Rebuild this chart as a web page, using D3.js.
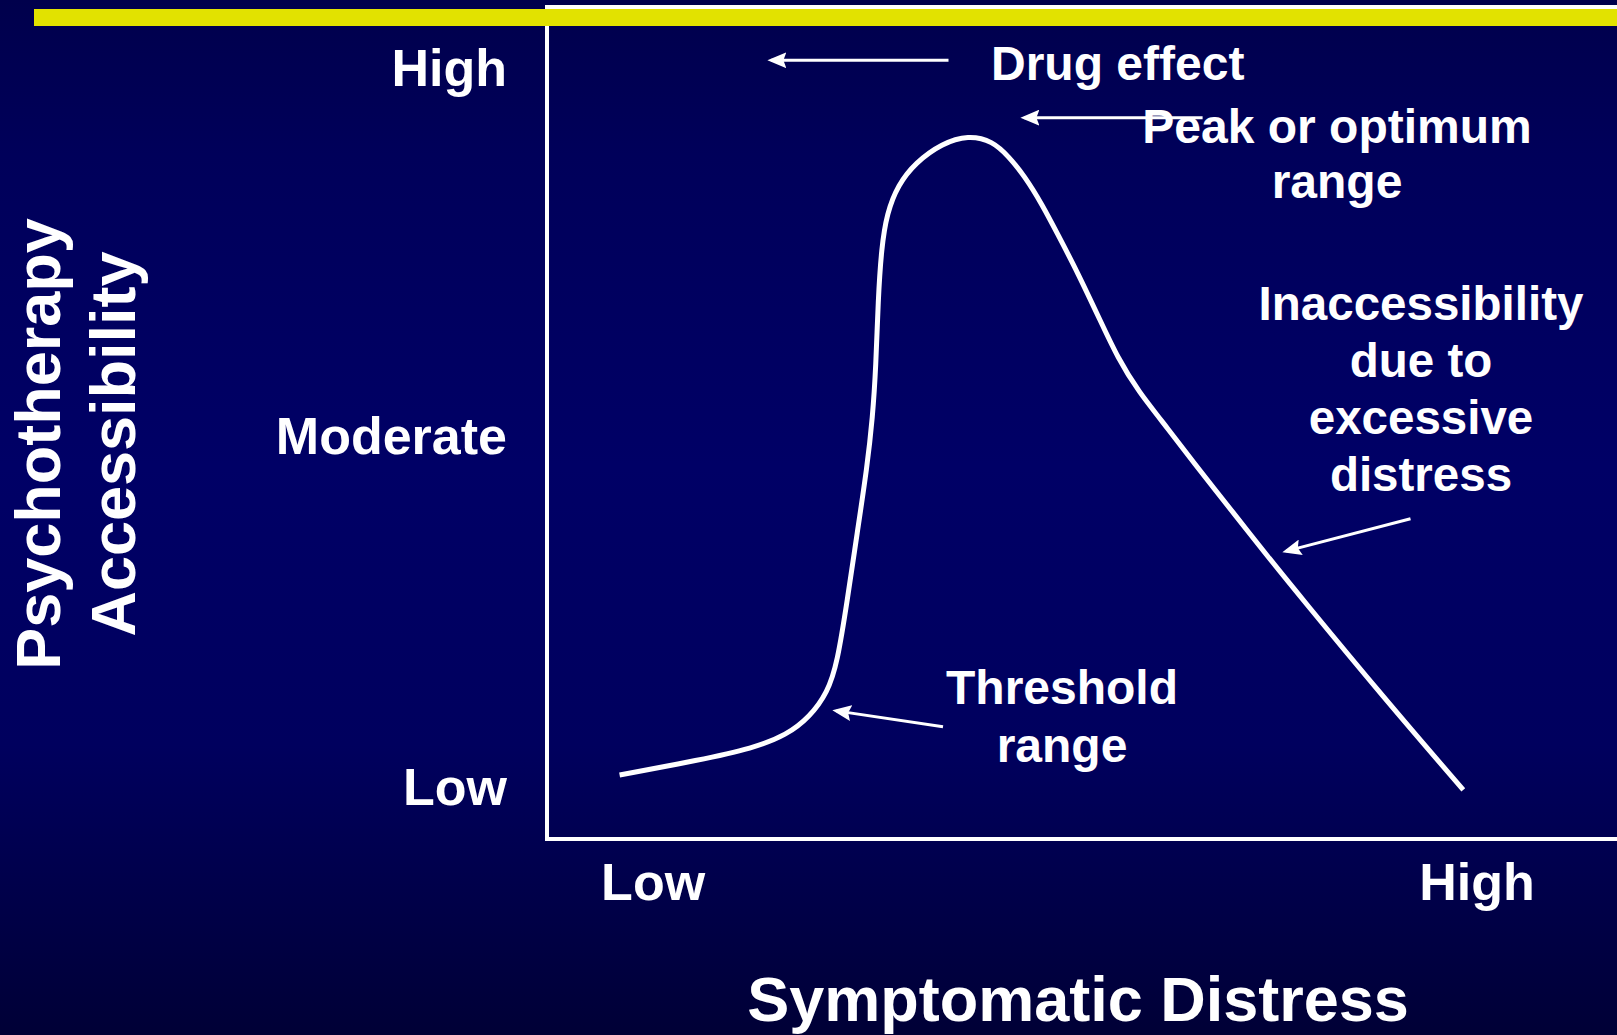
<!DOCTYPE html>
<html>
<head>
<meta charset="utf-8">
<script src="https://cdn.jsdelivr.net/npm/d3@7"></script>
<style>
  html, body { margin: 0; padding: 0; background: #000050; }
  svg { display: block; }
  text { font-family: "Liberation Sans", Arial, sans-serif; font-weight: bold; fill: #fff; }
</style>
</head>
<body>
<svg id="chart" width="1617" height="1035"></svg>
<script>
// curve (distress 0-100, accessibility 0-100)
const distress = [6.6, 13.9, 18.7, 21.8, 23.9, 25.5, 26.4, 27.3, 28.2, 29.1, 29.6, 29.9, 30.1, 30.4, 30.9,
  31.9, 33.5, 35.9, 38.3, 40.5, 42.0, 43.4, 45.0, 46.5, 48.2, 50.3, 51.9, 53.7, 56.4, 59.4, 62.4, 65.5, 68.5, 76.0, 83.3];
const accessibility = [7.7, 9.5, 10.9, 12.5, 14.7, 17.6, 21.2, 28.7, 36.8, 44.7, 50.7, 56.7, 64.8, 71.0, 75.2,
  78.6, 81.3, 83.6, 84.6, 83.9, 82.0, 79.7, 76.3, 72.5, 68.2, 62.3, 57.8, 53.9, 49.4, 44.2, 39.2, 34.0, 29.1, 17.1, 5.9];

const yTickLabels = ["Low", "Moderate", "High"];
const yTickValues = [6.2, 48.3, 92.6];
const xTickLabels = ["Low", "High"];
const xTickValues = [9.6, 84.5];

const xTitle = "Symptomatic Distress";
const yTitle = ["Psychotherapy", "Accessibility"];

const svg = d3.select("#chart");
const W = 1617, H = 1035;

// background gradient
const defs = svg.append("defs");
const grad = defs.append("linearGradient").attr("id", "bg").attr("x1", 0).attr("y1", 0).attr("x2", 0).attr("y2", 1);
[[0, "#00004c"], [0.15, "#00005a"], [0.45, "#000066"], [0.72, "#00005e"], [1, "#000036"]].forEach(s => {
  grad.append("stop").attr("offset", s[0]).attr("stop-color", s[1]);
});
svg.append("rect").attr("width", W).attr("height", H).attr("fill", "url(#bg)");

defs.append("marker")
  .attr("id", "head")
  .attr("viewBox", "0 0 19 16")
  .attr("refX", 15).attr("refY", 8)
  .attr("markerWidth", 19).attr("markerHeight", 16)
  .attr("markerUnits", "userSpaceOnUse")
  .attr("orient", "auto")
  .append("path").attr("d", "M0,0 L19,8 L0,16 L3,8 Z").attr("fill", "#fff");

const x = d3.scaleLinear().domain([0, 100]).range([547, 1647]);
const y = d3.scaleLinear().domain([0, 100]).range([839, 7]);

// plot frame (right side runs off the slide)
svg.append("rect")
  .attr("x", x(0)).attr("y", y(100))
  .attr("width", x(100) - x(0)).attr("height", y(0) - y(100))
  .attr("fill", "none").attr("stroke", "#fff").attr("stroke-width", 4);

// yellow title bar
svg.append("rect").attr("x", 34).attr("y", 9).attr("width", W - 34).attr("height", 17).attr("fill", "#e2e200");

// axes: only the labels are visible
const yAxis = svg.append("g")
  .attr("transform", `translate(${x(0)},0)`)
  .call(d3.axisLeft(y).tickValues(yTickValues).tickSize(0).tickPadding(40)
    .tickFormat((d, i) => yTickLabels[i]));
const xAxis = svg.append("g")
  .attr("transform", `translate(0,${y(0)})`)
  .call(d3.axisBottom(x).tickValues(xTickValues).tickSize(0).tickPadding(24)
    .tickFormat((d, i) => xTickLabels[i]));
[yAxis, xAxis].forEach(g => {
  g.select(".domain").remove();
  g.selectAll("text").attr("fill", "#fff").style("font-size", "52px")
    .style("font-family", '"Liberation Sans", Arial, sans-serif').style("font-weight", "bold");
});

// axis titles
svg.append("text").attr("x", 1078).attr("y", 1021).attr("text-anchor", "middle")
  .style("font-size", "63px").text(xTitle);
yTitle.forEach((t, i) => {
  svg.append("text")
    .attr("transform", `translate(${[60, 135][i]},444) rotate(-90)`)
    .attr("text-anchor", "middle")
    .style("font-size", "63px").text(t);
});

// the curve
const pts = distress.map((d, i) => [d, accessibility[i]]);
const line = d3.line().x(d => x(d[0])).y(d => y(d[1])).curve(d3.curveBasis);
svg.append("path").datum(pts)
  .attr("d", line)
  .attr("fill", "none").attr("stroke", "#fff").attr("stroke-width", 5)
  .attr("stroke-linecap", "butt");

// arrows: [tailX, tailY, tipX, tipY] in data units
const arrows = [
  [36.5, 93.6, 20.4, 93.6],
  [59.6, 86.7, 43.4, 86.7],
  [36.0, 13.5, 26.3, 15.4],
  [78.5, 38.5, 67.2, 34.6]
];
svg.append("g").selectAll("line")
  .data(arrows)
  .join("line")
  .attr("x1", d => x(d[0])).attr("y1", d => y(d[1]))
  .attr("x2", d => x(d[2])).attr("y2", d => y(d[3]))
  .attr("stroke", "#fff").attr("stroke-width", 3)
  .attr("marker-end", "url(#head)");

// annotation texts
const notes = [
  { lines: ["Drug effect"], x: 991, y: 80, anchor: "start", size: 48, lh: 0 },
  { lines: ["Peak or optimum", "range"], x: 1337, y: 143, anchor: "middle", size: 48, lh: 55 },
  { lines: ["Threshold", "range"], x: 1062, y: 704, anchor: "middle", size: 48, lh: 58 },
  { lines: ["Inaccessibility", "due to", "excessive", "distress"], x: 1421, y: 320, anchor: "middle", size: 47.5, lh: 57 }
];
notes.forEach(n => {
  const t = svg.append("text").attr("text-anchor", n.anchor).style("font-size", n.size + "px");
  n.lines.forEach((l, i) => {
    t.append("tspan").attr("x", n.x).attr("y", n.y + i * n.lh).text(l);
  });
});
</script>
</body>
</html>
